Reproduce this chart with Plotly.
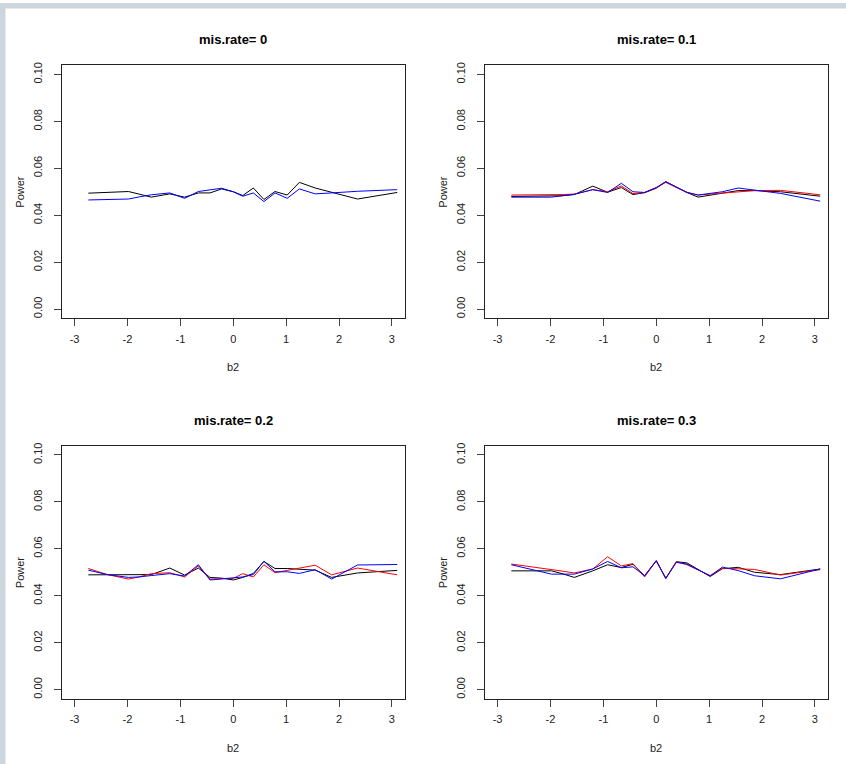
import plotly.graph_objects as go

# b2 grid shared by all panels
b2 = [-2.74, -2.38, -1.98, -1.78, -1.55, -1.2, -0.92, -0.66, -0.44, -0.22, 0.0,
      0.18, 0.38, 0.58, 0.79, 1.02, 1.25, 1.55, 1.86, 2.35, 3.1]

mis_rates = ["0", "0.1", "0.2", "0.3"]

# power curves per missing rate (black / red / blue methods)
power_black_0 = [0.0494, 0.0497, 0.0501, 0.0490, 0.0477, 0.0491, 0.0477, 0.0495, 0.0495, 0.0512, 0.0500,
                 0.0484, 0.0516, 0.0467, 0.0501, 0.0486, 0.0540, 0.0516, 0.0498, 0.0469, 0.0497]
power_blue_0 = [0.0465, 0.0467, 0.0469, 0.0478, 0.0487, 0.0495, 0.0472, 0.0501, 0.0508, 0.0515, 0.0500,
                0.0481, 0.0495, 0.0458, 0.0495, 0.0472, 0.0512, 0.0491, 0.0495, 0.0502, 0.0509]

power_black_1 = [0.0480, 0.0480, 0.0480, 0.0483, 0.0488, 0.0524, 0.0498, 0.0518, 0.0488, 0.0496, 0.0515,
                 0.0543, 0.0520, 0.0497, 0.0477, 0.0485, 0.0492, 0.0505, 0.0505, 0.0500, 0.0481]
power_red_1 = [0.0486, 0.0486, 0.0486, 0.0488, 0.0490, 0.0509, 0.0500, 0.0525, 0.0492, 0.0497, 0.0517,
               0.0540, 0.0518, 0.0498, 0.0486, 0.0490, 0.0493, 0.0498, 0.0505, 0.0506, 0.0487]
power_blue_1 = [0.0477, 0.0477, 0.0477, 0.0483, 0.0489, 0.0509, 0.0497, 0.0536, 0.0500, 0.0497, 0.0518,
                0.0543, 0.0520, 0.0497, 0.0486, 0.0492, 0.0500, 0.0516, 0.0508, 0.0493, 0.0460]

power_black_2 = [0.0489, 0.0489, 0.0490, 0.0490, 0.0490, 0.0518, 0.0488, 0.0518, 0.0478, 0.0475, 0.0467,
                 0.0478, 0.0495, 0.0546, 0.0516, 0.0516, 0.0512, 0.0509, 0.0478, 0.0497, 0.0508]
power_red_2 = [0.0516, 0.0490, 0.0471, 0.0480, 0.0494, 0.0498, 0.0480, 0.0527, 0.0471, 0.0472, 0.0474,
               0.0494, 0.0480, 0.0532, 0.0498, 0.0508, 0.0518, 0.0530, 0.0489, 0.0518, 0.0489]
power_blue_2 = [0.0509, 0.0490, 0.0478, 0.0480, 0.0486, 0.0494, 0.0484, 0.0532, 0.0467, 0.0471, 0.0474,
                0.0480, 0.0490, 0.0547, 0.0502, 0.0502, 0.0495, 0.0511, 0.0471, 0.0531, 0.0533]

power_black_3 = [0.0506, 0.0506, 0.0506, 0.0494, 0.0478, 0.0506, 0.0532, 0.0520, 0.0534, 0.0485, 0.0549,
                 0.0474, 0.0545, 0.0540, 0.0512, 0.0482, 0.0515, 0.0521, 0.0500, 0.0490, 0.0514]
power_red_3 = [0.0535, 0.0524, 0.0514, 0.0505, 0.0497, 0.0514, 0.0566, 0.0527, 0.0537, 0.0480, 0.0549,
               0.0474, 0.0545, 0.0532, 0.0510, 0.0486, 0.0517, 0.0514, 0.0512, 0.0488, 0.0511]
power_blue_3 = [0.0532, 0.0512, 0.0492, 0.0492, 0.0492, 0.0514, 0.0546, 0.0519, 0.0523, 0.0485, 0.0549,
                0.0474, 0.0542, 0.0535, 0.0512, 0.0484, 0.0522, 0.0507, 0.0485, 0.0472, 0.0514]

x_ticks = [-3, -2, -1, 0, 1, 2, 3]
y_ticks = [0.00, 0.02, 0.04, 0.06, 0.08, 0.10]
y_tick_text = ["0.00", "0.02", "0.04", "0.06", "0.08", "0.10"]

panels = [
    [("black", power_black_0), ("blue", power_blue_0)],
    [("black", power_black_1), ("red", power_red_1), ("blue", power_blue_1)],
    [("black", power_black_2), ("red", power_red_2), ("blue", power_blue_2)],
    [("black", power_black_3), ("red", power_red_3), ("blue", power_blue_3)],
]

W, H = 846, 764
FONT = "Liberation Sans, Arial, sans-serif"

# plot boxes in pixels: (left, right, top, bottom)
boxes = [
    (61.9, 404.6, 62.3, 316.7),
    (484.9, 827.6, 62.3, 316.7),
    (61.9, 404.6, 444.3, 698.7),
    (484.9, 827.6, 444.3, 698.7),
]

fig = go.Figure()
layout = dict(
    width=W, height=H,
    margin=dict(l=0, r=0, t=0, b=0),
    paper_bgcolor="white", plot_bgcolor="white",
    showlegend=False,
    font=dict(family=FONT, size=11, color="black"),
)
annotations = []

for i, (series, (l, r, t, b)) in enumerate(zip(panels, boxes)):
    k = "" if i == 0 else str(i + 1)
    for color, vals in series:
        fig.add_trace(go.Scatter(
            x=b2, y=vals, mode="lines",
            line=dict(color=color, width=1),
            xaxis="x" + k, yaxis="y" + k, hoverinfo="skip",
        ))
    layout["xaxis" + k] = dict(
        domain=[l / W, r / W], range=[-3.24, 3.24], anchor="y" + k,
        tickmode="array", tickvals=x_ticks, ticktext=[str(v) for v in x_ticks],
        ticks="outside", ticklen=7, tickwidth=1, tickcolor="#444",
        showline=True, linecolor="#222", linewidth=1, mirror=True,
        showgrid=False, zeroline=False, ticklabelstandoff=3,
        tickfont=dict(family=FONT, size=11, color="#222"),
    )
    layout["yaxis" + k] = dict(
        domain=[1 - b / H, 1 - t / H], range=[-0.004, 0.104], anchor="x" + k,
        tickmode="array", tickvals=y_ticks, ticktext=y_tick_text, tickangle=-90,
        ticks="outside", ticklen=7, tickwidth=1, tickcolor="#444",
        showline=True, linecolor="#222", linewidth=1, mirror=True,
        showgrid=False, zeroline=False, ticklabelstandoff=8,
        tickfont=dict(family=FONT, size=11, color="#222"),
    )
    cx = (l + r) / 2
    annotations.append(dict(
        text="<b>mis.rate= %s</b>" % mis_rates[i], xref="paper", yref="paper",
        x=cx / W, y=1 - (t - 25.5) / H, showarrow=False,
        font=dict(family=FONT, size=13, color="black"),
        xanchor="center", yanchor="middle",
    ))
    annotations.append(dict(
        text="b2", xref="paper", yref="paper",
        x=cx / W, y=1 - (b + 49) / H, showarrow=False,
        font=dict(family=FONT, size=11, color="#222"),
        xanchor="center", yanchor="middle",
    ))
    annotations.append(dict(
        text="Power", xref="paper", yref="paper", textangle=-90,
        x=(l - 42) / W, y=1 - ((t + b) / 2) / H, showarrow=False,
        font=dict(family=FONT, size=11, color="#222"),
        xanchor="center", yanchor="middle",
    ))

layout["annotations"] = annotations
# window frame strips along the left and top edges
layout["shapes"] = [
    dict(type="rect", xref="paper", yref="paper", x0=0, x1=5.5 / W, y0=0, y1=1,
         fillcolor="#cdd6dc", line=dict(width=0), layer="above"),
    dict(type="rect", xref="paper", yref="paper", x0=0, x1=1, y0=1 - 5.5 / H, y1=1,
         fillcolor="#cdd6dc", line=dict(width=0), layer="above"),
]
fig.update_layout(**layout)
fig.write_html("out.html")
